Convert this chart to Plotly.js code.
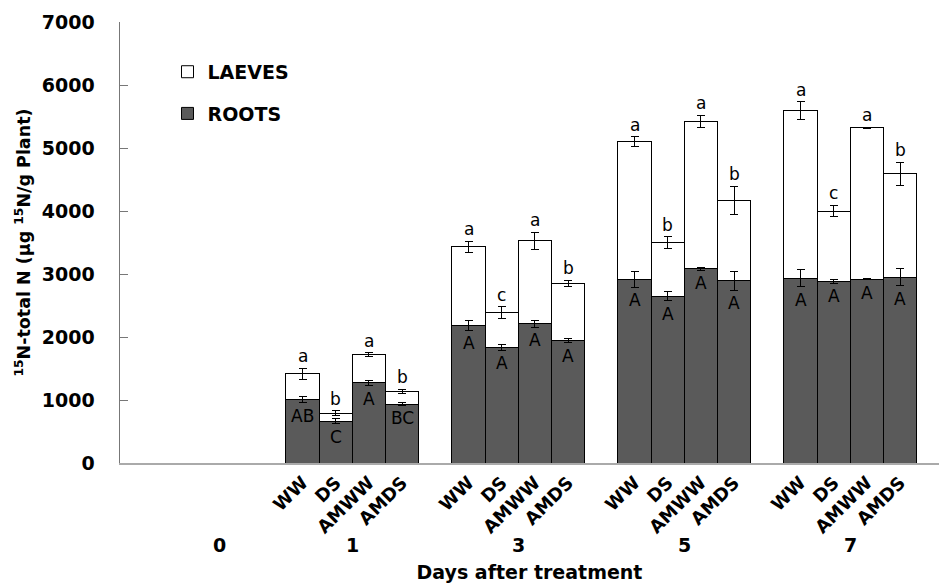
<!DOCTYPE html>
<html>
<head>
<meta charset="utf-8">
<script src="https://cdn.plot.ly/plotly-3.0.1.min.js"></script>
<style>html,body{margin:0;padding:0;background:#fff;}#chart{width:939px;height:583px;}</style>
</head>
<body>
<div id="chart"></div>
<script>
// ---- data ----
const days = ['0', '1', '3', '5', '7'];
const treatments = ['WW', 'DS', 'AMWW', 'AMDS'];
// values for days 1, 3, 5, 7 (4 treatments each); day 0 has no bars
const rootsN    = [1010, 660, 1270, 935,  2180, 1840, 2210, 1940,  2910, 2650, 3080, 2890,  2930, 2880, 2920, 2950];
const rootsErr  = [50, 40, 43, 20,  75, 48, 55, 32,  124, 74, 20, 150,  135, 25, 15, 138];
const leavesN   = [410, 130, 450, 200,  1250, 550, 1320, 910,  2190, 850, 2340, 1280,  2660, 1120, 2400, 1640];
const leavesErr = [88, 40, 32, 32,  87, 90, 135, 53,  80, 93, 98, 225,  143, 95, 12, 180];
const leafLetters = ['a','b','a','b',  'a','c','a','b',  'a','b','a','b',  'a','c','a','b'];
const rootLetters = ['AB','C','A','BC',  'A','A','A','A',  'A','A','A','A',  'A','A','A','A'];

// ---- positions on a numeric axis: one slot per bar, one empty slot between days ----
const xs = [], ticktext = [];
for (let g = 1; g < days.length; g++) {
  for (let t = 0; t < treatments.length; t++) {
    xs.push(5 * g + t + 0.5);
    ticktext.push(treatments[t]);
  }
}
const dayX = days.map((d, g) => g === 0 ? 3 : 5 * g + 2);

const boldFont = {family: 'DejaVu Sans', weight: 700, color: '#000'};
const errStyle = (arr) => ({type: 'data', array: arr, visible: true, color: '#000', thickness: 1, width: 4});

const roots = {
  type: 'bar', name: 'ROOTS', legendgroup: 'roots', legendrank: 2,
  x: xs, y: rootsN, width: 1,
  marker: {color: '#5a5a5a', line: {color: '#000', width: 1}},
  error_y: errStyle(rootsErr), hoverinfo: 'skip'
};
const leaves = {
  type: 'bar', name: 'LAEVES', legendgroup: 'leaves', legendrank: 1,
  x: xs, y: leavesN, width: 1,
  marker: {color: 'rgba(255,255,255,0)', line: {color: '#000', width: 1}},
  error_y: errStyle(leavesErr), hoverinfo: 'skip'
};

const annotations = [];
xs.forEach((x, i) => {
  const total = rootsN[i] + leavesN[i];
  annotations.push({x: x, y: total + leavesErr[i], xref: 'x', yref: 'y', text: leafLetters[i],
    showarrow: false, yanchor: 'bottom', font: {family: 'DejaVu Sans', size: 17, color: '#000'}});
  annotations.push({x: x, y: rootsN[i] - rootsErr[i], xref: 'x', yref: 'y', text: rootLetters[i],
    showarrow: false, yanchor: 'top', yshift: -1, font: {family: 'DejaVu Sans', size: 17, color: '#000'}});
});
days.forEach((d, g) => {
  annotations.push({x: dayX[g], y: -0.186, xref: 'x', yref: 'paper', text: d, showarrow: false,
    yanchor: 'middle', font: Object.assign({size: 19}, boldFont)});
});

const layout = {
  width: 939, height: 583,
  margin: {l: 120, r: 0, t: 22, b: 120},
  paper_bgcolor: '#fff', plot_bgcolor: '#fff',
  barmode: 'stack', bargap: 0,
  showlegend: true,
  legend: {x: 0.058, y: 0.93, xanchor: 'left', yanchor: 'top', traceorder: 'grouped',
    tracegroupgap: 14, bgcolor: 'rgba(0,0,0,0)', font: Object.assign({size: 19}, boldFont)},
  xaxis: {
    range: [0, 24.67], showgrid: false, zeroline: false,
    showline: true, linecolor: '#aaa', linewidth: 2,
    tickmode: 'array', tickvals: xs, ticktext: ticktext, tickangle: -45, ticks: '',
    tickfont: Object.assign({size: 18}, boldFont),
    title: {text: 'Days after treatment', font: Object.assign({size: 19}, boldFont), standoff: 40}
  },
  yaxis: {
    range: [0, 7000], showgrid: false, zeroline: false,
    showline: true, linecolor: '#777', linewidth: 1.5,
    tickmode: 'array', tickvals: [0, 1000, 2000, 3000, 4000, 5000, 6000, 7000],
    ticks: 'inside', ticklen: 8, tickcolor: '#777', ticklabelstandoff: 20,
    tickfont: Object.assign({size: 19}, boldFont),
    title: {text: '<sup>15</sup>N-total N (µg <sup>15</sup>N/g Plant)', font: Object.assign({size: 17.5}, boldFont), standoff: 6}
  },
  annotations: annotations
};

Plotly.newPlot('chart', [roots, leaves], layout, {displayModeBar: false, staticPlot: true});
</script>
</body>
</html>
